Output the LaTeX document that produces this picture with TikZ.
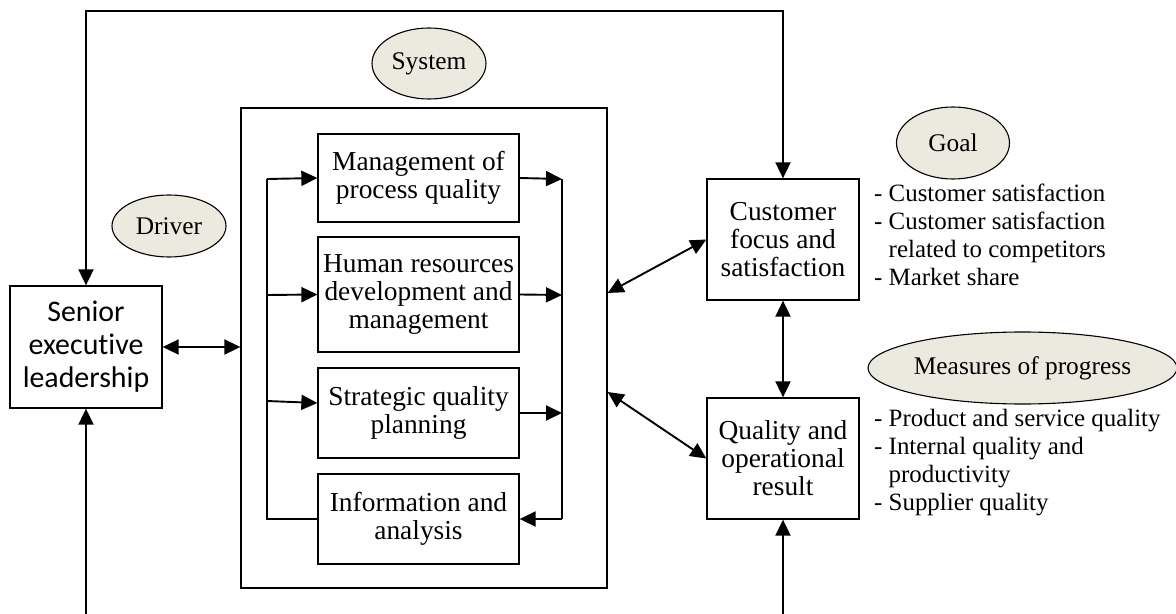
\documentclass[tikz,border=0pt]{standalone}
\usepackage{fontspec}
\setmainfont{Liberation Serif}
\newfontfamily\calib[Ligatures={NoCommon}]{Carlito}
\usetikzlibrary{arrows.meta,shapes.geometric}
\definecolor{ellfill}{RGB}{236,234,222}
\begin{document}
\begin{tikzpicture}[x=1bp,y=-1bp,
  box/.style={draw,line width=1.3bp,inner sep=0pt,align=center,font=\fontsize{27.5}{28}\selectfont},
  tag/.style={ellipse,draw,line width=1.1bp,fill=ellfill,inner sep=0pt,font=\fontsize{25.5}{28}\selectfont},
  arr/.style={line width=1.9bp,-{Triangle[length=16bp,width=15bp]}},
  darr/.style={line width=1.9bp,{Triangle[length=16bp,width=15bp]}-{Triangle[length=16bp,width=15bp]}},
  plain/.style={line width=1.9bp},
  list/.style={align=left,anchor=north west,inner sep=0pt,font=\fontsize{25}{28}\selectfont}]
\useasboundingbox (0,0) rectangle (1176,614);
% system frame
\node[draw,line width=1.3bp,minimum width=366bp,minimum height=480bp,inner sep=0pt] (sys) at (424,348) {};
% boxes
\node[box,minimum width=152bp,minimum height=122bp,font=\calib\fontsize{30}{33}\selectfont] (sen) at (86,347) {Senior\\executive\\leadership};
\node[box,minimum width=201bp,minimum height=88bp] (mgmt) at (418.5,178) {Management of\\process quality};
\node[box,minimum width=201bp,minimum height=115bp] (hum) at (418.5,294.5) {Human resources\\development and\\management};
\node[box,minimum width=201bp,minimum height=90bp] (strat) at (418.5,413) {Strategic quality\\planning};
\node[box,minimum width=201bp,minimum height=90bp] (info) at (418.5,519) {Information and\\analysis};
\node[box,minimum width=152bp,minimum height=121bp] (cust) at (783,239.5) {Customer\\focus and\\satisfaction};
\node[box,minimum width=152bp,minimum height=121bp] (qual) at (783,458.5) {Quality and\\operational\\result};
% ellipses
\node[tag,minimum width=114bp,minimum height=71bp] (system) at (429,63.5) {System};
\node[tag,minimum width=114bp,minimum height=62bp] (driver) at (169,226) {Driver};
\node[tag,minimum width=113bp,minimum height=72bp] (goal) at (953,143) {Goal};
\node[tag,minimum width=309bp,minimum height=72bp] (meas) at (1022.5,368) {Measures of progress};
% lists
\node[list] (glist) at (874,184) {- Customer satisfaction\\- Customer satisfaction\\\phantom{- }related to competitors\\- Market share};
\node[list] (mlist) at (874,409) {- Product and service quality\\- Internal quality and\\\phantom{- }productivity\\- Supplier quality};
% buses
\coordinate (lbt) at (267,179);
\coordinate (lbb) at (267,519);
\coordinate (lb2) at (267,295);
\coordinate (lb3) at (267,401);
\coordinate (rbt) at (562,179);
\coordinate (rbb) at (562,519);
\coordinate (rb2) at (562,295);
\coordinate (rb3) at (562,413);
\draw[plain] (info.west) -- (lbb) -- (lbt);
\draw[arr] (lbt) -- (mgmt.west);
\draw[arr] (lb2) -- (hum.west);
\draw[arr] (lb3) -- ([yshift=10bp]strat.west);
\draw[plain] (rbt) -- (rbb);
\draw[arr] (mgmt.east) -- (rbt);
\draw[arr] (hum.east) -- (rb2);
\draw[arr] (strat.east) -- (rb3);
\draw[arr] (rbb) -- (info.east);
% outer connectors
\draw[darr] (sen.east) -- (sys.west |- sen.east);
\coordinate (tl) at (86,11);
\coordinate (tr) at (783,11);
\draw[darr] (sen.north) -- (tl) -- (tr) -- (cust.north);
\coordinate (bl) at (86,614);
\coordinate (br) at (783,614);
\draw[arr] (bl) -- (sen.south);
\draw[arr] (br) -- (qual.south);
\draw[darr] (cust.south) -- (qual.north);
\draw[darr] ([yshift=55bp]sys.east) -- (cust.west);
\draw[darr] ([yshift=-44bp]sys.east) -- (qual.west);
\end{tikzpicture}
\end{document}
